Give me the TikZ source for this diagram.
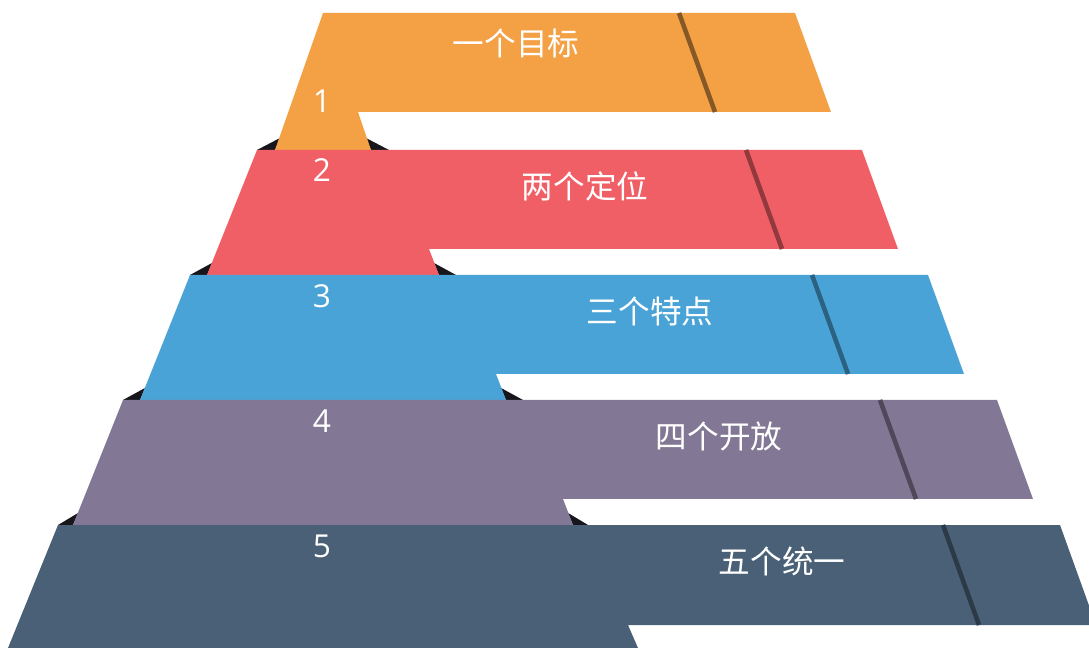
\documentclass[tikz,border=0pt]{standalone}
\usepackage{fontspec}
\setmainfont{Open Sans}
\newfontfamily\cjk{Noto Sans CJK SC}
\usepackage{tikz}

\definecolor{tierone}{HTML}{F4A146}
\definecolor{tiertwo}{HTML}{F15F66}
\definecolor{tierthree}{HTML}{4AA3D6}
\definecolor{tierfour}{HTML}{827895}
\definecolor{tierfive}{HTML}{4A6076}
\definecolor{shadowcol}{HTML}{16161C}

\tikzset{
    num/.style={text=white, font=\fontsize{18}{20}\selectfont},
    goal/.style={text=white, font=\cjk\fontsize{18}{20}\selectfont},
    divider/.style={line width=2.6pt}
}

\begin{document}
\begin{tikzpicture}[x=0.02cm, y=-0.02cm]
    \useasboundingbox (0,0) rectangle (1089,648);
    \clip (0,0) rectangle (1089,648);

    % Shadows
    \fill[shadowcol] (257,150) -- (275,150) -- (280,138) -- cycle;
    \fill[shadowcol] (389,150) -- (371,150) -- (366,138) -- cycle;
    \fill[shadowcol] (190,275) -- (207,275) -- (212,263) -- cycle;
    \fill[shadowcol] (456,275) -- (439,275) -- (434,263) -- cycle;
    \fill[shadowcol] (123,400) -- (140,400) -- (145,388) -- cycle;
    \fill[shadowcol] (523,400) -- (506,400) -- (501,388) -- cycle;
    \fill[shadowcol] (58,525) -- (73,525) -- (78,513) -- cycle;
    \fill[shadowcol] (588,525) -- (573,525) -- (568,513) -- cycle;

    % Tiers
    \fill[tierone] (323,13) -- (795,13) -- (831,112) -- (358,112) -- (371,150) -- (275,150) -- cycle;
    \fill[tiertwo] (257,150) -- (862,150) -- (898,249) -- (429,249) -- (439,275) -- (207,275) -- cycle;
    \fill[tierthree] (190,275) -- (928,275) -- (964,374) -- (496,374) -- (506,400) -- (140,400) -- cycle;
    \fill[tierfour] (123,400) -- (997,400) -- (1033,499) -- (563,499) -- (573,525) -- (73,525) -- cycle;
    \fill[tierfive] (58,525) -- (1060,525) -- (1096,625) -- (628,625) -- (638,648) -- (8,648) -- cycle;

    % Dividers
    \draw[divider, tierone!55!black] (679,13) -- (715,112);
    \draw[divider, tiertwo!60!black] (746,150) -- (782,249);
    \draw[divider, tierthree!60!black] (812,275) -- (848,374);
    \draw[divider, tierfour!60!black] (880,400) -- (916,499);
    \draw[divider, tierfive!60!black] (943,525) -- (979,625);

    % Nodes
    \node[num] (one) at (322,101) {1};
    \node[num] (two) at (322,170) {2};
    \node[num] (three) at (322,296) {3};
    \node[num] (four) at (322,421) {4};
    \node[num] (five) at (322,546) {5};

    \node[goal] (target) at (516,43) {一个目标};
    \node[goal] (position) at (585,186) {两个定位};
    \node[goal] (feature) at (650,311) {三个特点};
    \node[goal] (opening) at (719,437) {四个开放};
    \node[goal] (unity) at (782,561) {五个统一};
\end{tikzpicture}
\end{document}
